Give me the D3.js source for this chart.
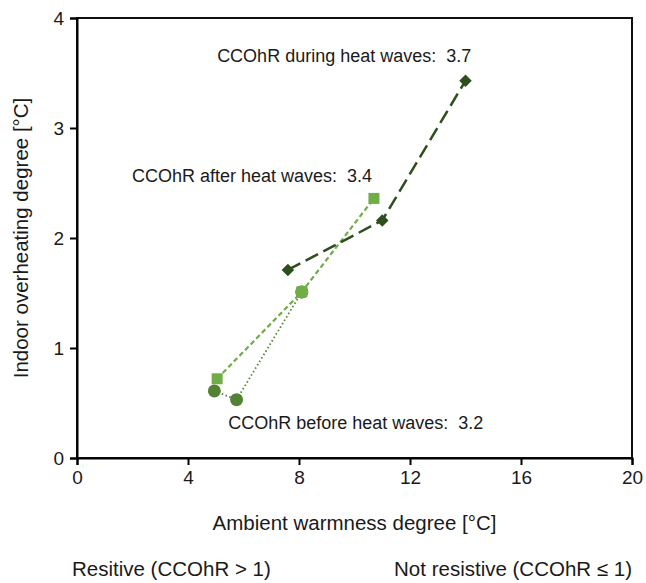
<!DOCTYPE html>
<html>
<head>
<meta charset="utf-8">
<script src="https://cdn.jsdelivr.net/npm/d3@7"></script>
<style>
  body { margin: 0; background: #fff; }
  text { font-family: "Liberation Sans", Arial, sans-serif; fill: #1a1a1a; }
</style>
</head>
<body>
<div id="chart"></div>
<script>
// chart size
const w = 646;
const h = 583;
const margin = { top: 18, right: 14, bottom: 125, left: 77 };

// data
const xTicks = [0, 4, 8, 12, 16, 20];
const yTicks = [0, 1, 2, 3, 4];
const duringX = [7.6, 11.0, 14.0];
const duringY = [1.71, 2.16, 3.43];
const afterX = [5.05, 8.1, 10.7];
const afterY = [0.72, 1.51, 2.36];
const beforeX = [4.95, 5.75, 8.1];
const beforeY = [0.61, 0.53, 1.51];
const notes = ['CCOhR during heat waves:  3.7', 'CCOhR after heat waves:  3.4', 'CCOhR before heat waves:  3.2'];
const noteX = [5.05, 1.98, 5.45];
const noteY = [3.6, 2.51, 0.26];

const svg = d3.select('#chart').append('svg')
  .attr('width', w)
  .attr('height', h);

const xScale = d3.scaleLinear()
  .domain([0, 20])
  .range([margin.left, w - margin.right]);
const yScale = d3.scaleLinear()
  .domain([0, 4])
  .range([h - margin.bottom, margin.top]);

// frame around plot
svg.append('rect')
  .attr('x', xScale(0))
  .attr('y', yScale(4))
  .attr('width', xScale(20) - xScale(0))
  .attr('height', yScale(0) - yScale(4))
  .attr('fill', 'none')
  .attr('stroke', '#111')
  .attr('stroke-width', 2);

// axes
const xAxis = d3.axisBottom(xScale).tickValues(xTicks).tickSize(7).tickPadding(6);
svg.append('g')
  .attr('transform', 'translate(0,' + yScale(0) + ')')
  .call(xAxis)
  .call(g => g.select('.domain').attr('stroke-width', 2))
  .call(g => g.selectAll('.tick line').attr('stroke-width', 2))
  .call(g => g.selectAll('.tick text').style('font-size', '19px'));
const yAxis = d3.axisLeft(yScale).tickValues(yTicks).tickFormat(d3.format('d')).tickSize(7).tickPadding(6);
svg.append('g')
  .attr('transform', 'translate(' + xScale(0) + ',0)')
  .call(yAxis)
  .call(g => g.select('.domain').attr('stroke-width', 2))
  .call(g => g.selectAll('.tick line').attr('stroke-width', 2))
  .call(g => g.selectAll('.tick text').style('font-size', '19px'));

// axis titles
svg.append('text')
  .attr('x', (xScale(0) + xScale(20)) / 2)
  .attr('y', 530)
  .attr('text-anchor', 'middle')
  .style('font-size', '20.5px')
  .text('Ambient warmness degree [°C]');
svg.append('text')
  .attr('transform', 'translate(28,' + ((yScale(0) + yScale(4)) / 2) + ') rotate(-90)')
  .attr('text-anchor', 'middle')
  .style('font-size', '20.5px')
  .text('Indoor overheating degree [°C]');

// bottom notes
svg.append('text')
  .attr('x', 72)
  .attr('y', 576)
  .style('font-size', '20.5px')
  .text('Resitive (CCOhR > 1)');
svg.append('text')
  .attr('x', 632)
  .attr('y', 576)
  .attr('text-anchor', 'end')
  .style('font-size', '20.5px')
  .text('Not resistive (CCOhR ≤ 1)');

const line = d3.line().x(d => xScale(d[0])).y(d => yScale(d[1]));
const afterPts = d3.zip(afterX, afterY);
const beforePts = d3.zip(beforeX, beforeY);
const duringPts = d3.zip(duringX, duringY);

// after heat waves: light green squares, short dashes
svg.append('path')
  .attr('d', line(afterPts))
  .attr('fill', 'none')
  .attr('stroke', '#70ad47')
  .attr('stroke-width', 2.2)
  .attr('stroke-dasharray', '5,3');
svg.selectAll('.sq').data(afterPts).enter().append('rect')
  .attr('class', 'sq')
  .attr('x', d => xScale(d[0]) - 5.5)
  .attr('y', d => yScale(d[1]) - 5.5)
  .attr('width', 11)
  .attr('height', 11)
  .attr('fill', '#70ad47');

// before heat waves: green circles, dotted
svg.append('path')
  .attr('d', line(beforePts))
  .attr('fill', 'none')
  .attr('stroke', '#548235')
  .attr('stroke-width', 1.8)
  .attr('stroke-dasharray', '1.5,2.5');
svg.selectAll('.dot').data(beforePts).enter().append('circle')
  .attr('class', 'dot')
  .attr('cx', d => xScale(d[0]))
  .attr('cy', d => yScale(d[1]))
  .attr('r', 6.5)
  .attr('fill', '#548235');
// shared point shows in the lighter tone
svg.append('circle')
  .attr('cx', xScale(afterX[1]))
  .attr('cy', yScale(afterY[1]))
  .attr('r', 6.5)
  .attr('fill', '#70ad47');

// during heat waves: dark diamonds, long dashes
svg.append('path')
  .attr('d', line(duringPts))
  .attr('fill', 'none')
  .attr('stroke', '#2e4f1c')
  .attr('stroke-width', 2.5)
  .attr('stroke-dasharray', '14,6');
svg.selectAll('.dia').data(duringPts).enter().append('path')
  .attr('class', 'dia')
  .attr('transform', d => 'translate(' + xScale(d[0]) + ',' + yScale(d[1]) + ')')
  .attr('d', d3.symbol().type(d3.symbolDiamond2).size(100))
  .attr('fill', '#2e4f1c');

// ratio notes
svg.selectAll('.note').data(notes).enter().append('text')
  .attr('class', 'note')
  .attr('x', (d, i) => xScale(noteX[i]))
  .attr('y', (d, i) => yScale(noteY[i]))
  .style('font-size', '18px')
  .style('white-space', 'pre')
  .text(d => d);
</script>
</body>
</html>
